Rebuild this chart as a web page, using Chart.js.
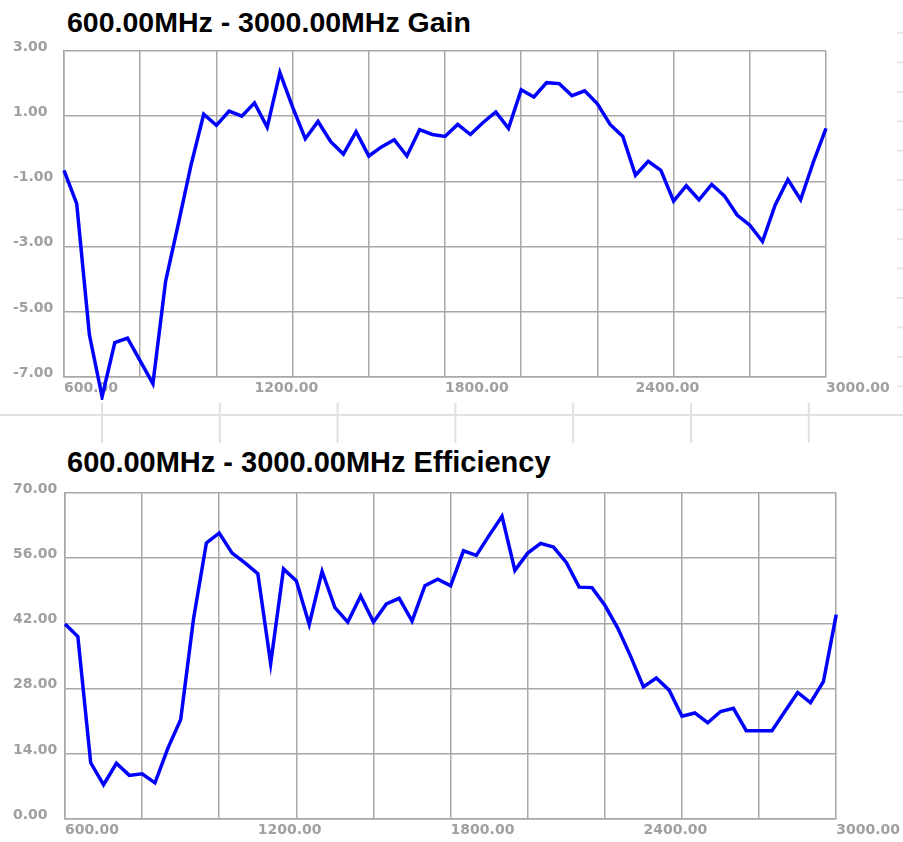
<!DOCTYPE html>
<html>
<head>
<meta charset="utf-8">
<script src="https://cdn.jsdelivr.net/npm/chart.js@4.4.0/dist/chart.umd.min.js"></script>
<style>
  html, body { margin: 0; padding: 0; background: #fff; }
  body { width: 903px; height: 842px; position: relative; overflow: hidden; }
  .title {
    position: absolute; left: 67px;
    font-family: "Liberation Sans", Arial, sans-serif; font-weight: bold;
    line-height: 28px; color: #000; white-space: nowrap;
  }
  .box { position: absolute; left: 0; width: 903px; }
  /* leftovers of the neighbouring screenshot */
  .sep { position: absolute; left: 0; top: 414px; width: 903px; height: 2px; background: #e2e2e2; }
  .sepTicks {
    position: absolute; left: 0; top: 403px; width: 903px; height: 40px;
    background-image: linear-gradient(to right, #e0e0e0 0 2px, transparent 2px);
    background-size: 117.8px 100%; background-position: 101px 0;
  }
  .dashes {
    position: absolute; left: 897px; top: 32px; width: 6px; height: 360px;
    background-image: linear-gradient(#e8e8e8 0 2px, transparent 2px);
    background-size: 100% 29.45px;
  }
</style>
</head>
<body>
<div class="sep"></div>
<div class="sepTicks"></div>
<div class="dashes"></div>

<div class="title" style="top:8px;font-size:28.5px">600.00MHz - 3000.00MHz Gain</div>
<div class="box" style="top:0;height:400px"><canvas id="gainChart"></canvas></div>

<div class="title" style="top:448px;font-size:29px">600.00MHz - 3000.00MHz Efficiency</div>
<div class="box" style="top:480px;height:362px"><canvas id="effChart"></canvas></div>

<script>
// frequencies (MHz), one sample every 40 MHz
const freqs = [600, 640, 680, 720, 760, 800, 840, 880, 920, 960,
               1000, 1040, 1080, 1120, 1160, 1200, 1240, 1280, 1320, 1360,
               1400, 1440, 1480, 1520, 1560, 1600, 1640, 1680, 1720, 1760,
               1800, 1840, 1880, 1920, 1960, 2000, 2040, 2080, 2120, 2160,
               2200, 2240, 2280, 2320, 2360, 2400, 2440, 2480, 2520, 2560,
               2600, 2640, 2680, 2720, 2760, 2800, 2840, 2880, 2920, 2960, 3000];

// gain (dBi)
const gain = [-0.66, -1.68, -5.7, -7.6, -5.94, -5.8, -6.5, -7.2, -4.06, -2.3,
              -0.5, 1.06, 0.72, 1.16, 1.0, 1.41, 0.66, 2.34, 1.28, 0.31,
              0.84, 0.22, -0.16, 0.53, -0.22, 0.06, 0.28, -0.22, 0.59, 0.44,
              0.38, 0.75, 0.44, 0.81, 1.13, 0.63, 1.81, 1.59, 2.03, 2.0,
              1.63, 1.78, 1.38, 0.75, 0.38, -0.81, -0.38, -0.66, -1.6, -1.13,
              -1.56, -1.09, -1.44, -2.03, -2.34, -2.84, -1.72, -0.94, -1.56, -0.41, 0.63];

// efficiency (%)
const efficiency = [41.9, 39.2, 12.1, 7.4, 12.0, 9.4, 9.75, 7.8, 15.2, 21.4,
                    43.0, 59.3, 61.4, 57.1, 55.0, 52.7, 33.4, 53.7, 51.1, 41.8,
                    53.2, 45.4, 42.3, 47.9, 42.3, 46.2, 47.4, 42.5, 50.1, 51.5,
                    50.1, 57.6, 56.6, 60.9, 65.0, 53.4, 57.1, 59.2, 58.4, 55.1,
                    49.8, 49.7, 45.9, 41.0, 35.0, 28.4, 30.3, 27.7, 22.1, 22.8,
                    20.7, 23.1, 23.8, 19.0, 19.0, 19.0, 23.1, 27.2, 25.0, 29.5, 43.9];

const xLabelStep = 600;   // labelled frequencies
const xGridStep  = 240;   // vertical grid spacing
const gainTicks = { min: -7, max: 3, step: 2 };
const effTicks  = { min: 0, max: 70, step: 14 };

const gridColor = '#a8a8a8';
const tickColor = '#a0a0a0';
const tickFont  = { family: 'DejaVu Sans', size: 14, weight: 'bold' };

function makeChart(canvasId, values, yt, pad) {
  const pts = freqs.map((f, i) => ({ x: f, y: values[i] }));
  return new Chart(document.getElementById(canvasId), {
    type: 'line',
    data: {
      datasets: [{
        data: pts,
        borderColor: '#0000ff',
        borderWidth: 3.5,
        pointRadius: 0,
        tension: 0,
        clip: false
      }]
    },
    options: {
      responsive: true,
      maintainAspectRatio: false,
      animation: false,
      layout: { padding: pad },
      plugins: { legend: { display: false }, tooltip: { enabled: false } },
      scales: {
        x: {
          type: 'linear', min: 600, max: 3000,
          ticks: { display: false, stepSize: xGridStep },
          grid: { color: gridColor, lineWidth: 1.5, drawTicks: false },
          border: { color: gridColor, width: 1.5 },
          afterFit: s => { s.height = 0; }
        },
        x2: {
          type: 'linear', position: 'bottom', min: 600, max: 3000,
          grid: { display: false, drawTicks: false },
          border: { display: false },
          ticks: {
            stepSize: xLabelStep, align: 'start', padding: 3,
            color: tickColor, font: tickFont, maxRotation: 0,
            autoSkip: false,
            callback: v => v.toFixed(2)
          }
        },
        y: {
          min: yt.min, max: yt.max,
          ticks: {
            stepSize: yt.step, crossAlign: 'far', padding: 4, labelOffset: -4,
            color: tickColor, font: tickFont,
            callback: v => v.toFixed(2)
          },
          grid: { color: gridColor, lineWidth: 1.5, drawTicks: false },
          border: { color: gridColor, width: 1.5 },
          afterFit: s => { s.width = pad.yWidth; }
        }
      }
    }
  });
}

makeChart('gainChart', gain, gainTicks,
  { top: 51, left: 13, right: 903 - 826, bottom: 0, yWidth: 51 });
makeChart('effChart', efficiency, effTicks,
  { top: 13, left: 13, right: 903 - 837, bottom: 0, yWidth: 52 });
</script>
</body>
</html>
